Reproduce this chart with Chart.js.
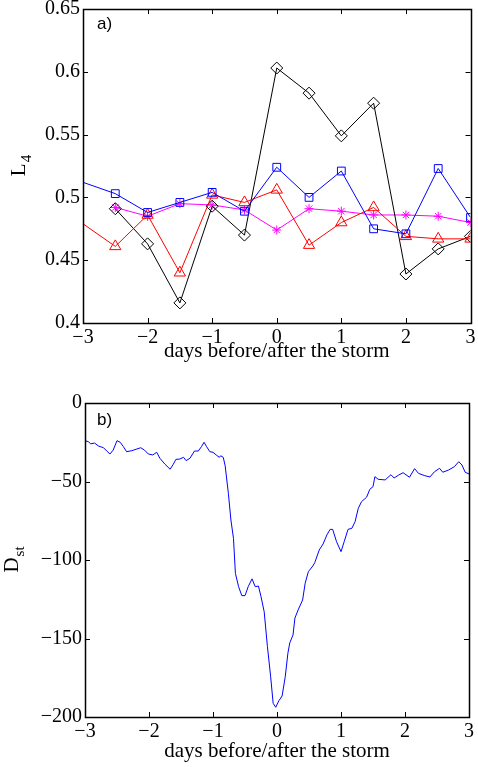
<!DOCTYPE html>
<html>
<head>
<meta charset="utf-8">
<script src="https://cdn.jsdelivr.net/npm/chart.js@4.4.0/dist/chart.umd.min.js"></script>
<style>
  html, body { margin: 0; padding: 0; background: #fff; }
  #topChart { position: absolute; left: 0; top: 0; }
  #bottomChart { position: absolute; left: 0; top: 385px; }
</style>
</head>
<body>
<canvas id="topChart" width="478" height="380"></canvas>
<canvas id="bottomChart" width="478" height="382"></canvas>
<script>
// panel a) L4 around the storms, half day steps
const days = [-3, -2.5, -2, -1.5, -1, -0.5, 0, 0.5, 1, 1.5, 2, 2.5, 3];
const blueL4 = [0.512, 0.503, 0.488, 0.496, 0.504, 0.489, 0.524, 0.500, 0.521, 0.475, 0.471, 0.523, 0.484];
const redL4 = [0.479, 0.461, 0.486, 0.440, 0.502, 0.496, 0.506, 0.462, 0.480, 0.492, 0.469, 0.467, 0.467];
const blackL4 = [null, 0.491, 0.463, 0.416, 0.493, 0.470, 0.603, 0.583, 0.549, 0.575, 0.439, 0.459, 0.469];
const magentaL4 = [null, 0.492, 0.485, 0.495, 0.494, 0.490, 0.474, 0.491, 0.489, 0.486, 0.486, 0.485, 0.480];
const l4Ticks = [0.4, 0.45, 0.5, 0.55, 0.6, 0.65];
const dayTicks = [-3, -2, -1, 0, 1, 2, 3];

// panel b) Dst index
const dstDays = [-3.00, -2.95, -2.91, -2.85, -2.79, -2.71, -2.66, -2.61, -2.56, -2.50,
  -2.45, -2.40, -2.35, -2.27, -2.19, -2.13, -2.07, -2.01, -1.94, -1.88,
  -1.83, -1.75, -1.67, -1.62, -1.58, -1.52, -1.46, -1.42, -1.36, -1.29,
  -1.23, -1.18, -1.14, -1.10, -1.05, -1.00, -0.95, -0.90, -0.88, -0.84,
  -0.81, -0.76, -0.72, -0.68, -0.65, -0.60, -0.55, -0.50, -0.45, -0.39,
  -0.34, -0.29, -0.25, -0.20, -0.15, -0.10, -0.06, -0.02, 0.03, 0.08,
  0.13, 0.17, 0.20, 0.25, 0.28, 0.33, 0.40, 0.44, 0.49, 0.56,
  0.59, 0.66, 0.72, 0.78, 0.83, 0.87, 0.93, 1.00, 1.05, 1.11,
  1.17, 1.22, 1.27, 1.32, 1.40, 1.45, 1.50, 1.53, 1.58, 1.69,
  1.78, 1.83, 1.90, 1.97, 2.07, 2.15, 2.21, 2.31, 2.39, 2.46,
  2.54, 2.59, 2.68, 2.77, 2.84, 2.89, 2.94, 3.00];
const dstValues = [-24.0, -24.6, -26.0, -25.5, -27.4, -28.5, -30.6, -32.5, -30.0, -24.0,
  -25.0, -27.8, -31.0, -30.4, -29.3, -28.5, -30.0, -32.5, -33.1, -31.4,
  -35.2, -39.0, -42.2, -39.0, -35.9, -35.7, -34.6, -36.7, -35.2, -30.6,
  -30.6, -27.8, -25.0, -27.8, -31.0, -31.4, -33.1, -34.6, -33.6, -34.6,
  -40.0, -57.5, -74.5, -86.2, -108.5, -117.0, -122.7, -122.7, -117.0, -112.0,
  -117.0, -116.6, -123.3, -133.0, -155.0, -174.0, -191.3, -193.8, -189.6, -186.6,
  -174.0, -159.4, -152.7, -147.8, -137.0, -131.8, -125.5, -114.8, -107.4, -103.8,
  -101.7, -93.6, -89.8, -84.0, -80.5, -80.5, -88.3, -94.7, -88.3, -80.5,
  -79.8, -75.6, -67.1, -62.9, -60.0, -55.0, -53.3, -46.9, -48.6, -49.0,
  -45.7, -47.8, -45.9, -44.4, -47.3, -41.8, -44.8, -46.3, -47.1, -43.8,
  -41.6, -44.1, -42.7, -40.6, -37.4, -39.5, -44.1, -45.2];
const dstTicks = [0, -50, -100, -150, -200];

const SERIF = '"Liberation Serif", "Times New Roman", serif';
const tickFont = { family: SERIF, size: 20 };
const titleFont = { family: SERIF, size: 21 };

function fmt(v) {
  return (v < 0 ? '\u2212' : '') + Math.abs(v);
}

// MATLAB style box: frame on all sides, ticks pointing inwards, panel letter, y label with subscript
const boxPlugin = {
  id: 'box',
  afterDraw(chart, args, opts) {
    const { ctx, chartArea: a, scales: { x, y } } = chart;
    ctx.save();
    ctx.strokeStyle = '#000';
    ctx.lineWidth = 1;
    ctx.beginPath();
    x.ticks.forEach(t => {
      const px = Math.round(x.getPixelForValue(t.value)) + 0.5;
      ctx.moveTo(px, a.bottom); ctx.lineTo(px, a.bottom - 5);
      ctx.moveTo(px, a.top); ctx.lineTo(px, a.top + 5);
    });
    y.ticks.forEach(t => {
      const py = Math.round(y.getPixelForValue(t.value)) + 0.5;
      ctx.moveTo(a.left, py); ctx.lineTo(a.left + 5, py);
      ctx.moveTo(a.right, py); ctx.lineTo(a.right - 5, py);
    });
    ctx.stroke();
    ctx.lineWidth = 1.5;
    ctx.strokeRect(Math.round(a.left) + 0.5, Math.round(a.top) + 0.5,
      Math.round(a.right - a.left), Math.round(a.bottom - a.top));

    ctx.fillStyle = '#000';
    ctx.font = '17px "Liberation Sans", Arial, sans-serif';
    ctx.textBaseline = 'alphabetic';
    ctx.textAlign = 'left';
    ctx.fillText(opts.letter, a.left + opts.letterDx, a.top + opts.letterDy);

    ctx.translate(opts.titleX, (a.top + a.bottom) / 2);
    ctx.rotate(-Math.PI / 2);
    ctx.font = '21px ' + SERIF;
    const wMain = ctx.measureText(opts.label).width;
    ctx.font = '15px ' + SERIF;
    const wSub = ctx.measureText(opts.sub).width;
    const x0 = -(wMain + wSub) / 2;
    ctx.font = '21px ' + SERIF;
    ctx.fillText(opts.label, x0, 7);
    ctx.font = '15px ' + SERIF;
    ctx.fillText(opts.sub, x0 + wMain + 1, 13);
    ctx.restore();
  }
};

function xAxis(height, titlePad) {
  return {
    type: 'linear', min: -3, max: 3,
    afterBuildTicks: s => { s.ticks = dayTicks.map(v => ({ value: v })); },
    afterFit: s => {
      s.height = height;
      s.paddingLeft = 0; s.paddingRight = 0; s.paddingTop = 0; s.paddingBottom = 0;
    },
    grid: { display: false, drawTicks: false },
    border: { display: false },
    ticks: { padding: 3, color: '#000', font: tickFont, maxRotation: 0, callback: v => fmt(v) },
    title: {
      display: true, text: 'days before/after the storm', color: '#000',
      font: titleFont, padding: { top: 0, bottom: titlePad }
    }
  };
}

function yAxis(min, max, ticks, width) {
  return {
    type: 'linear', min: min, max: max,
    afterBuildTicks: s => { s.ticks = ticks.map(v => ({ value: v })); },
    afterFit: s => {
      s.width = width;
      s.paddingLeft = 0; s.paddingRight = 0; s.paddingTop = 0; s.paddingBottom = 0;
    },
    grid: { display: false, drawTicks: false },
    border: { display: false },
    ticks: { padding: 3, color: '#000', font: tickFont, callback: v => fmt(v) }
  };
}

function l4Series(values, color, style, radius) {
  return {
    data: days.map((d, i) => ({ x: d, y: values[i] })).filter(p => p.y !== null),
    borderColor: color,
    borderWidth: 1,
    pointStyle: style,
    pointRadius: c => (c.raw && c.raw.x <= -3 ? 0 : radius),
    pointBorderColor: color,
    pointBackgroundColor: 'rgba(0,0,0,0)',
    pointBorderWidth: 1,
    tension: 0
  };
}

new Chart(document.getElementById('topChart'), {
  type: 'line',
  data: {
    datasets: [
      l4Series(blueL4, '#0000ff', 'rect', 5.5),
      l4Series(redL4, '#ff0000', 'triangle', 6.5),
      l4Series(blackL4, '#000000', 'rectRot', 6),
      l4Series(magentaL4, '#ff00ff', 'star', 4.5)
    ]
  },
  options: {
    responsive: false,
    animation: false,
    layout: { padding: { top: 9, right: 5, left: 0, bottom: 0 } },
    plugins: {
      legend: { display: false },
      tooltip: { enabled: false },
      box: { letter: 'a)', letterDx: 14, letterDy: 20, titleX: 18, label: 'L', sub: '4' }
    },
    scales: {
      x: xAxis(57, 16),
      y: yAxis(0.4, 0.65, l4Ticks, 83)
    }
  },
  plugins: [boxPlugin]
});

new Chart(document.getElementById('bottomChart'), {
  type: 'line',
  data: {
    datasets: [{
      data: dstDays.map((d, i) => ({ x: d, y: dstValues[i] })),
      borderColor: '#0000ff',
      borderWidth: 1,
      pointRadius: 0,
      tension: 0
    }]
  },
  options: {
    responsive: false,
    animation: false,
    layout: { padding: { top: 18, right: 9, left: 0, bottom: 0 } },
    plugins: {
      legend: { display: false },
      tooltip: { enabled: false },
      box: { letter: 'b)', letterDx: 12, letterDy: 22, titleX: 11, label: 'D', sub: 'st' }
    },
    scales: {
      x: xAxis(50, 3),
      y: yAxis(-200, 0, dstTicks, 85)
    }
  },
  plugins: [boxPlugin]
});
</script>
</body>
</html>
